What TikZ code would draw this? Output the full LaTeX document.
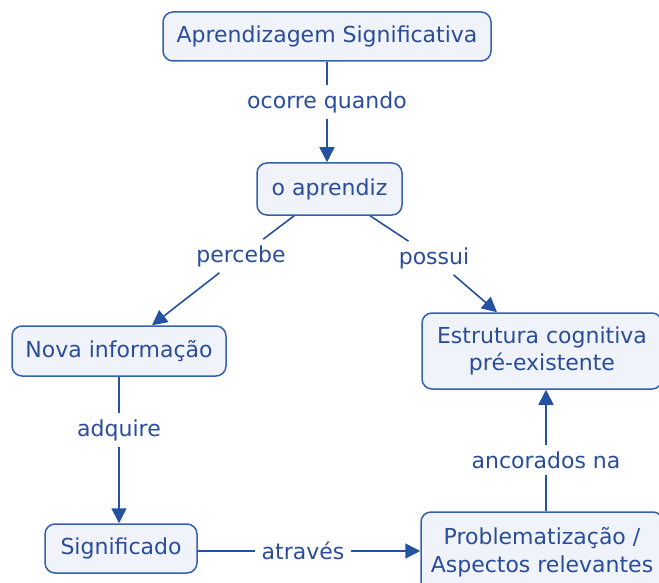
\documentclass[tikz,border=0pt]{standalone}
\usepackage{fontspec}
\setmainfont{DejaVu Sans}
\usetikzlibrary{arrows.meta}
\definecolor{bord}{HTML}{3560AD}
\definecolor{boxfill}{HTML}{F0F3FA}
\definecolor{txt}{HTML}{2A4D9B}
\definecolor{lnk}{HTML}{2451A0}
\tikzset{
  concept/.style={draw=bord, fill=boxfill, line width=1.5pt, rounded corners=10pt,
    text=txt, font=\fontsize{22}{27.5}\selectfont, align=center, inner sep=0pt},
  lbl/.style={text=txt, font=\fontsize{22}{27}\selectfont, inner sep=6pt},
  link/.style={draw=lnk, line width=1.6pt},
  arr/.style={link, -{Triangle[length=15pt,width=15pt]}}
}
\begin{document}
\begin{tikzpicture}[x=1pt,y=-1pt]
\useasboundingbox (0,0) rectangle (659,583);
\clip (0,0) rectangle (659,583);
\node[concept, minimum width=328pt, minimum height=49pt] (as) at (327,36.5) {Aprendizagem Significativa};
\node[concept, minimum width=145pt, minimum height=52pt] (ap) at (329.5,189) {o aprendiz};
\node[concept, minimum width=214pt, minimum height=50pt] (ni) at (119,351) {Nova informação};
\node[concept, minimum width=240pt, minimum height=76pt] (ec) at (542,351) {Estrutura cognitiva\\pré-existente};
\node[concept, minimum width=152pt, minimum height=49pt] (sg) at (121,548.5) {Significado};
\node[concept, minimum width=242pt, minimum height=80pt] (pr) at (542,552) {Problematização /\\Aspectos relevantes};

\node[lbl] (l1) at (327,102) {ocorre quando};
\node[lbl] (l2) at (241,256) {percebe};
\node[lbl] (l3) at (434,258) {possui};
\node[lbl] (l4) at (119,430) {adquire};
\node[lbl] (l5) at (303,551) {através};
\node[lbl] (l6) at (546,460) {ancorados na};

\draw[link] (as.south -| l1) -- (l1);
\draw[arr] (l1) -- (l1 |- ap.north);
\draw[link] (ap) -- (l2);
\draw[arr] (l2) -- (ni);
\draw[link] (ap) -- (l3);
\draw[arr] (l3) -- (ec);
\draw[link] (ni.south -| l4) -- (l4);
\draw[arr] (l4) -- (l4 |- sg.north);
\draw[link] (sg.east |- l5) -- (l5);
\draw[arr] (l5) -- (l5 -| pr.west);
\draw[link] (pr.north -| l6) -- (l6);
\draw[arr] (l6) -- (l6 |- ec.south);
\end{tikzpicture}
\end{document}
